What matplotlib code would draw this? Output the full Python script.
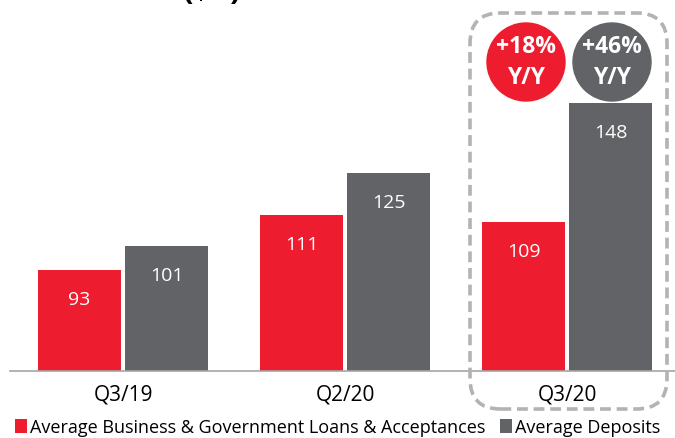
import numpy as np
import matplotlib.pyplot as plt
from matplotlib.patches import FancyBboxPatch, Circle

plt.rcParams['font.family'] = ['Open Sans', 'DejaVu Sans']

# quarterly volumes in $B
quarters = ['Q3/19', 'Q2/20', 'Q3/20']
loans = [93, 111, 109]
deposits = [101, 125, 148]
growth = ['+18%', '+46%']
series_names = ['Average Business & Government Loans & Acceptances', 'Average Deposits']

red = '#ED1C2E'
grey = '#626366'

fig = plt.figure(figsize=(6.75, 4.39), dpi=100)
W, H = 675, 439
base_px = 372
ax = fig.add_axes([10 / W, (H - base_px) / H, 665 / W, base_px / H])

x = np.arange(len(quarters))
w = 0.374
off = 0.196
b1 = ax.bar(x - off, loans, w, color=red, label=series_names[0])
b2 = ax.bar(x + off, deposits, w, color=grey, label=series_names[1])

ax.set_ylim(60, 182)
ax.set_xlim(-0.509, 2.486)

# value labels inside the bars
for bars, vals in ((b1, loans), (b2, deposits)):
    for r, v in zip(bars, vals):
        ax.text(r.get_x() + r.get_width() / 2, v - 9.5, str(v), ha='center', va='center',
                color='white', fontsize=14)

for s in ['top', 'right', 'left']:
    ax.spines[s].set_visible(False)
ax.spines['bottom'].set_color('#A6A6A6')
ax.spines['bottom'].set_linewidth(1.2)
ax.set_yticks([])
ax.set_xticks(x)
ax.set_xticklabels(quarters, fontsize=15)
ax.tick_params(axis='x', length=0, pad=9)

# dashed highlight around the latest quarter
box = FancyBboxPatch((470 / W, (H - 410) / H), 197 / W, 396 / H,
                     boxstyle='round,pad=0,rounding_size=0.045',
                     transform=fig.transFigure, fill=False, edgecolor='#B3B3B3',
                     linestyle=(0, (3, 1.6)), linewidth=2.6, mutation_aspect=W / H)
fig.add_artist(box)

# growth bubbles
for cx, col, txt in ((526, red, growth[0]), (612, grey, growth[1])):
    cy = H - 63
    c = Circle((cx, cy), 39, transform=None, color=col)
    fig.add_artist(c)
    fig.text(cx / W, (cy + 16) / H, txt, ha='center', va='center', color='white',
             fontsize=16.5, fontweight='bold')
    fig.text(cx / W, (cy - 15) / H, 'Y/Y', ha='center', va='center', color='white',
             fontsize=16.5, fontweight='bold')

# cut-off heading
fig.text(212 / W, (H + 9) / H, '($B)', ha='center', va='center', fontsize=22,
         fontweight='bold', color='black')

fig.legend(handles=[b1, b2], loc='center', bbox_to_anchor=(0.5, (H - 428) / H),
           ncol=2, frameon=False, fontsize=13, handlelength=0.7, handleheight=0.8,
           handletextpad=0.15, columnspacing=0.8, borderaxespad=0)

fig.savefig('out.png', dpi=100)
